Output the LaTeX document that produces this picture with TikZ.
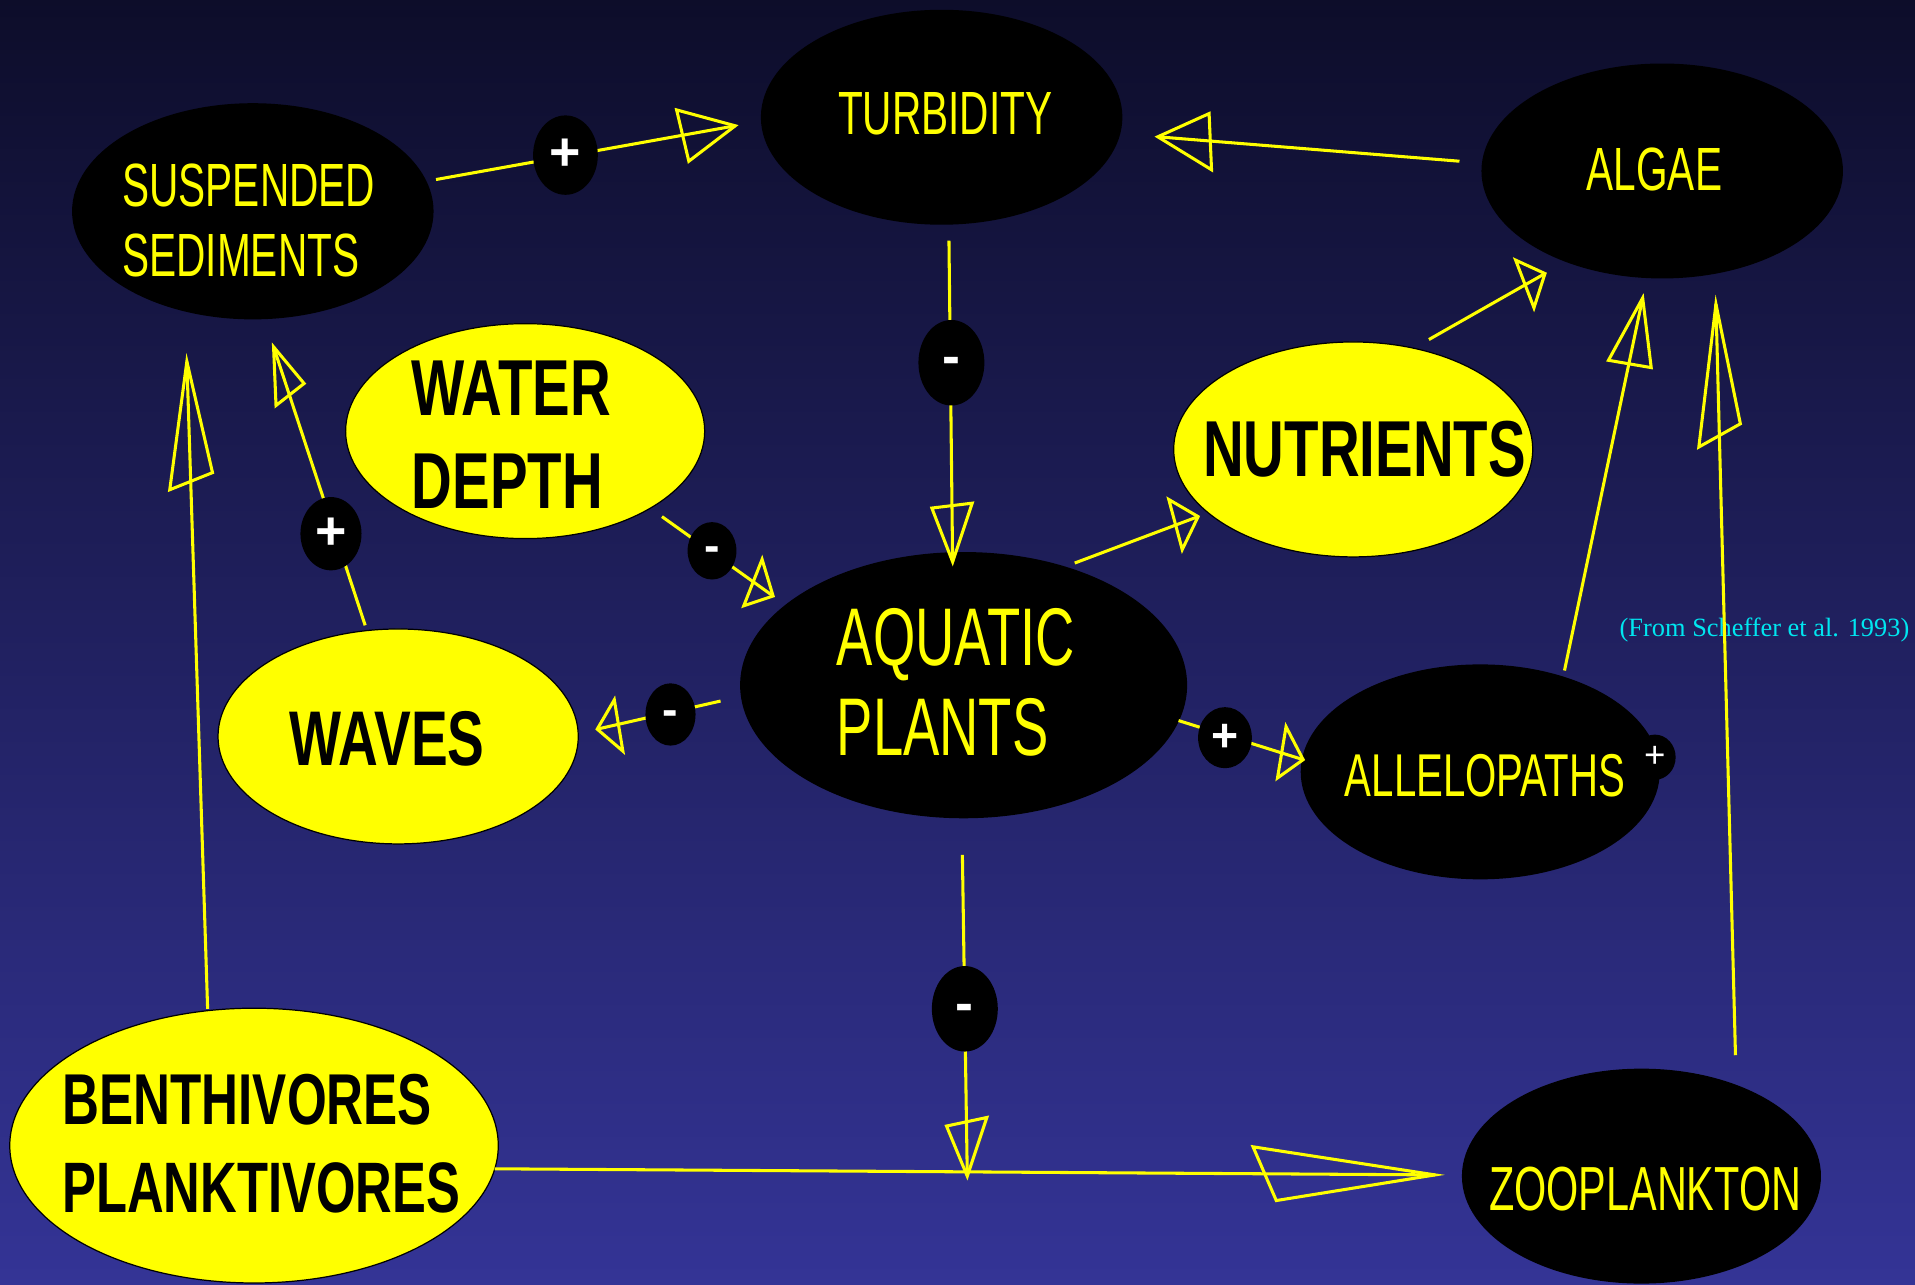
\documentclass[tikz,border=0pt]{standalone}
\usepackage{fontspec}
\usetikzlibrary{shapes.geometric}
\setmainfont{Liberation Sans}
\newfontfamily\nreg[FakeStretch=0.665]{Liberation Sans}
\newfontfamily\nbold[FakeStretch=0.71,UprightFont={* Bold}]{Liberation Sans}
\newfontfamily\tms{Liberation Serif}
\definecolor{bgtop}{RGB}{13,13,42}
\definecolor{bgbot}{RGB}{52,52,150}
\definecolor{ylw}{RGB}{255,255,0}
\definecolor{cyn}{RGB}{0,230,240}
\newcommand\ahead[3]{\draw[ahd] (#2) -- (#1) -- (#3) -- cycle;}
\begin{document}
\begin{tikzpicture}[x=1pt,y=-1pt,
  blk/.style={ellipse, fill=black, inner sep=0pt},
  yel/.style={ellipse, fill=ylw, draw=black, line width=1pt, inner sep=0pt},
  sgnc/.style={ellipse, fill=black, inner sep=0pt},
  conn/.style={draw=ylw, line width=2.5pt},
  ahd/.style={draw=ylw, line width=2.5pt, line join=miter},
  wtxt/.style={anchor=base west, text=ylw, inner sep=0pt, font=\nreg\fontsize{50}{50}\selectfont},
  btxt/.style={anchor=base west, text=black, inner sep=0pt, font=\nbold\fontsize{65}{65}\selectfont},
  sgn/.style={text=white, inner sep=0pt, font=\bfseries\fontsize{44}{44}\selectfont},
  mns/.style={sgn, yshift=-3pt}
]
\useasboundingbox (0,0) rectangle (1568,1052);
\shade[top color=bgtop, bottom color=bgbot] (0,0) rectangle (1568,1052);

% ellipses
\node[blk, minimum width=296pt, minimum height=177pt] (susp) at (207,173) {};
\node[blk, minimum width=296pt, minimum height=176pt] (turb) at (771,96) {};
\node[blk, minimum width=296pt, minimum height=176pt] (alga) at (1361,140) {};
\node[yel, minimum width=294pt, minimum height=176pt] (wdep) at (430,353) {};
\node[yel, minimum width=294pt, minimum height=176pt] (nutr) at (1108,368) {};
\node[blk, minimum width=366pt, minimum height=218pt] (aqua) at (789,561) {};
\node[yel, minimum width=295pt, minimum height=176pt] (wave) at (326,603) {};
\node[blk, minimum width=294pt, minimum height=176pt] (alle) at (1212,632) {};
\node[yel, minimum width=400pt, minimum height=225pt] (bent) at (208,938) {};
\node[blk, minimum width=294pt, minimum height=176pt] (zoop) at (1344,963) {};

% texts
\node[wtxt] (t1) at (100,169) {SUSPENDED};
\node[wtxt] (t2) at (100,226) {SEDIMENTS};
\node[wtxt] (t3) at (686,110) {TURBIDITY};
\node[wtxt] (t4) at (1299,156) {ALGAE};
\node[btxt] (t5) at (337,340) {WATER};
\node[btxt] (t6) at (337,416) {DEPTH};
\node[btxt] (t7) at (985,390) {NUTRIENTS};
\node[wtxt, font=\nreg\fontsize{67}{67}\selectfont] (t8) at (685,545) {AQUATIC};
\node[wtxt, font=\nreg\fontsize{67}{67}\selectfont] (t9) at (685,619) {PLANTS};
\node[btxt, font=\nbold\fontsize{63.5}{63.5}\selectfont] (t10) at (237,627) {WAVES};
\node[wtxt, font=\nreg\fontsize{49.5}{49.5}\selectfont] (t11) at (1101,652) {ALLELOPATHS};
\node[btxt, font=\nbold\fontsize{59}{59}\selectfont] (t12) at (51,921) {BENTHIVORES};
\node[btxt, font=\nbold\fontsize{58.5}{58.5}\selectfont] (t13) at (51,993) {PLANKTIVORES};
\node[wtxt, font=\nreg\fontsize{51}{51}\selectfont] (t14) at (1219,991) {ZOOPLANKTON};
\node[anchor=base west, inner sep=0pt, text=cyn, font=\tms\fontsize{21.6}{21.6}\selectfont] (src) at (1326,521) {(From Scheffer et al. 1993)};

% connector end points
\coordinate (a1s) at (357,147);  \coordinate (a1e) at (602,103);
\coordinate (a2s) at (1195,132); \coordinate (a2e) at (948,112);
\coordinate (a3s) at (777,197);  \coordinate (a3e) at (780,460);
\coordinate (a4s) at (880,461);  \coordinate (a4e) at (981,423);
\coordinate (a5s) at (1170,278); \coordinate (a5e) at (1265,224);
\coordinate (a6s) at (542,423);  \coordinate (a6e) at (633,488);
\coordinate (a7s) at (590,574);  \coordinate (a7e) at (489,597);
\coordinate (a8s) at (299,512);  \coordinate (a8e) at (224,284);
\coordinate (a9s) at (965,590);  \coordinate (a9e) at (1067,622);
\coordinate (a10s) at (1281,549); \coordinate (a10e) at (1345,244);
\coordinate (a11s) at (1421,864); \coordinate (a11e) at (1405,249);
\coordinate (a12s) at (170,826);  \coordinate (a12e) at (153,296);
\coordinate (a13s) at (788,700);  \coordinate (a13e) at (792,963);
\coordinate (a14s) at (405,957);  \coordinate (a14e) at (1175,962);

\foreach \i in {1,...,14} {\draw[conn] (a\i s) -- (a\i e);}

\ahead{a1e}{554,90}{564,132}
\ahead{a2e}{990,93}{992,139}
\ahead{a3e}{763,416}{796,412}
\ahead{a4e}{957,409}{968,450}
\ahead{a5e}{1241,213}{1256,252}
\ahead{a6e}{624,458}{609,496}
\ahead{a7e}{503,573}{510,615}
\ahead{a8e}{249,314}{226,332}
\ahead{a9e}{1053,595}{1046,637}
\ahead{a10e}{1317,295}{1352,301}
\ahead{a11e}{1425,347}{1391,366}
\ahead{a12e}{174,387}{139,401}
\ahead{a13e}{775,922}{808,915}
\ahead{a14e}{1026,939}{1045,983}

% sign circles
\node[sgnc, minimum width=53pt, minimum height=65pt] (s1) at (463,127) {};
\node[sgnc, minimum width=54pt, minimum height=70pt] (s2) at (779,297) {};
\node[sgnc, minimum width=40pt, minimum height=47pt] (s3) at (583,451) {};
\node[sgnc, minimum width=41pt, minimum height=51pt] (s4) at (549,585) {};
\node[sgnc, minimum width=50pt, minimum height=60pt] (s5) at (271,437) {};
\node[sgnc, minimum width=44pt, minimum height=50pt] (s6) at (1003,604) {};
\node[sgnc, minimum width=54pt, minimum height=70pt] (s7) at (790,826) {};
\node[sgnc, minimum width=34pt, minimum height=37pt] (s8) at (1355,620) {};

\node[sgn] at (s1) {+};
\node[mns] at (s2) {-};
\node[mns, font=\bfseries\fontsize{38}{38}\selectfont] at (s3) {-};
\node[mns, font=\bfseries\fontsize{38}{38}\selectfont] at (s4) {-};
\node[sgn] at (s5) {+};
\node[sgn, font=\bfseries\fontsize{38}{38}\selectfont] at (s6) {+};
\node[mns] at (s7) {-};
\node[sgn, font=\fontsize{30}{30}\selectfont] at (s8) {+};
\end{tikzpicture}
\end{document}
